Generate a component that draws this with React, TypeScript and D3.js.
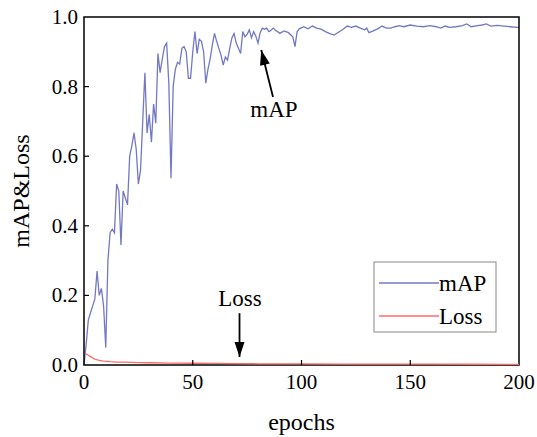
import React from "react";
import * as d3 from "d3";

const mapEpochs = [0,1,2,3,4,5,6,7,8,9,10,11,12,13,14,15,16,17,18,19,20,21,22,23,24,25,26,27,28,29,30,31,32,33,34,35,36,37,38,39,40,41,42,43,44,45,46,47,48,49,50,51,52,53,54,55,56,57,58,59,60,61,62,63,64,65,66,67,68,69,70,71,72,73,74,75,76,77,78,79,80,81,82,83,84,85,86,87,88,89,90,92,94,96,97,98,99,101,103,105,107,109,111,113,115,117,119,121,123,125,127,129,130,131,133,135,137,139,141,143,145,147,150,153,156,159,162,164,166,168,171,174,176,178,181,183,185,187,190,193,196,199,200];
const mapValues = [0.0,0.06,0.13,0.15,0.17,0.19,0.27,0.2,0.22,0.17,0.05,0.3,0.38,0.39,0.38,0.52,0.5,0.345,0.5,0.48,0.46,0.6,0.63,0.667,0.62,0.52,0.56,0.7,0.84,0.667,0.72,0.64,0.75,0.695,0.895,0.84,0.88,0.915,0.925,0.81,0.537,0.8,0.85,0.87,0.865,0.91,0.915,0.9,0.824,0.824,0.9,0.958,0.895,0.936,0.93,0.9,0.81,0.85,0.88,0.92,0.953,0.93,0.91,0.89,0.862,0.885,0.876,0.91,0.94,0.953,0.925,0.91,0.895,0.958,0.943,0.95,0.963,0.94,0.958,0.945,0.925,0.955,0.968,0.965,0.968,0.958,0.962,0.968,0.962,0.958,0.953,0.96,0.955,0.943,0.915,0.958,0.966,0.972,0.966,0.974,0.968,0.965,0.958,0.952,0.948,0.956,0.964,0.974,0.97,0.974,0.968,0.963,0.968,0.955,0.96,0.966,0.974,0.968,0.968,0.972,0.975,0.972,0.977,0.974,0.972,0.975,0.972,0.968,0.974,0.97,0.972,0.975,0.98,0.972,0.975,0.977,0.98,0.974,0.976,0.974,0.972,0.97,0.97];

const lossEpochs = [1,2,3,4,5,7,9,12,15,19,25,30,40,50,60,70,80,100,120,140,160,180,200];
const lossValues = [0.032,0.028,0.024,0.02,0.017,0.013,0.011,0.0095,0.0085,0.008,0.007,0.0065,0.0055,0.005,0.0045,0.004,0.0035,0.003,0.0028,0.0025,0.0023,0.0021,0.002];

const xTicks = [0, 50, 100, 150, 200];
const yTicks = [0, 0.2, 0.4, 0.6, 0.8, 1.0];

const FONT = "'Liberation Serif', 'Times New Roman', serif";
const BLUE = "#7378c4";
const RED = "#ff6b6b";

export default function App() {
  const W = 537, H = 437;
  const x = d3.scaleLinear().domain([0, 200]).range([84, 519]);
  const y = d3.scaleLinear().domain([0, 1]).range([365, 17]);

  const mapPts = mapEpochs.map((e, i) => [e, mapValues[i]] as [number, number]);
  const lossPts = lossEpochs.map((e, i) => [e, lossValues[i]] as [number, number]);
  const line = d3.line<[number, number]>().x(d => x(d[0])).y(d => y(d[1]));

  const mapTip = [x(81.5), y(0.905)];
  const mapTail = [x(86.9), y(0.77)];
  const lossTip = [x(71.5), y(0.023)];
  const lossTail = [x(71.5), y(0.149)];

  const arrowHead = (tail: number[], tip: number[], len = 15, half = 5) => {
    const dx = tip[0] - tail[0], dy = tip[1] - tail[1];
    const L = Math.hypot(dx, dy);
    const ux = dx / L, uy = dy / L;
    const bx = tip[0] - ux * len, by = tip[1] - uy * len;
    const px = -uy, py = ux;
    return `M${tip[0]},${tip[1]}L${bx + px * half},${by + py * half}L${bx - px * half},${by - py * half}Z`;
  };

  return (
    <svg width={W} height={H} style={{ position: "absolute", left: 0, top: 0, background: "#fff" }} fontFamily={FONT}>
      <rect x={0} y={0} width={W} height={H} fill="#fff" />
      <path d={line(mapPts) || ""} fill="none" stroke={BLUE} strokeWidth={1.3} />
      <rect x={x(0)} y={y(1)} width={x(200) - x(0)} height={y(0) - y(1)} fill="none" stroke="#000" strokeWidth={1.5} />
      <path d={line(lossPts) || ""} fill="none" stroke={RED} strokeWidth={1.3} />
      {xTicks.map(t => (
        <g key={"x" + t}>
          {t > 0 && t < 200 && <line x1={x(t)} x2={x(t)} y1={y(0)} y2={y(0) - 5} stroke="#000" strokeWidth={1.2} />}
          <text x={x(t)} y={y(0) + 24} textAnchor="middle" fontSize={21}>{t}</text>
        </g>
      ))}
      {yTicks.map(t => (
        <g key={"y" + t}>
          {t > 0 && t < 1 && <line x1={x(0)} x2={x(0) + 5} y1={y(t)} y2={y(t)} stroke="#000" strokeWidth={1.2} />}
          <text x={x(0) - 6} y={y(t) + 7} textAnchor="end" fontSize={21}>{t.toFixed(1)}</text>
        </g>
      ))}
      <text x={(x(0) + x(200)) / 2} y={430} textAnchor="middle" fontSize={24}>epochs</text>
      <text transform={`translate(29,${(y(0) + y(1)) / 2}) rotate(-90)`} textAnchor="middle" fontSize={24}>mAP&amp;Loss</text>
      <line x1={mapTail[0]} y1={mapTail[1]} x2={mapTip[0]} y2={mapTip[1]} stroke="#000" strokeWidth={1.8} />
      <path d={arrowHead(mapTail, mapTip)} fill="#000" />
      <text x={274} y={117} textAnchor="middle" fontSize={23}>mAP</text>
      <line x1={lossTail[0]} y1={lossTail[1]} x2={lossTip[0]} y2={lossTip[1]} stroke="#000" strokeWidth={1.8} />
      <path d={arrowHead(lossTail, lossTip)} fill="#000" />
      <text x={240} y={306} textAnchor="middle" fontSize={23}>Loss</text>
      <rect x={374} y={262} width={122} height={70} fill="#fff" stroke="#888" strokeWidth={1} />
      <line x1={379} x2={439} y1={283} y2={283} stroke={BLUE} strokeWidth={1.3} />
      <text x={439} y={291} fontSize={23}>mAP</text>
      <line x1={379} x2={439} y1={316} y2={316} stroke={RED} strokeWidth={1.3} />
      <text x={439} y={324} fontSize={23}>Loss</text>
    </svg>
  );
}
